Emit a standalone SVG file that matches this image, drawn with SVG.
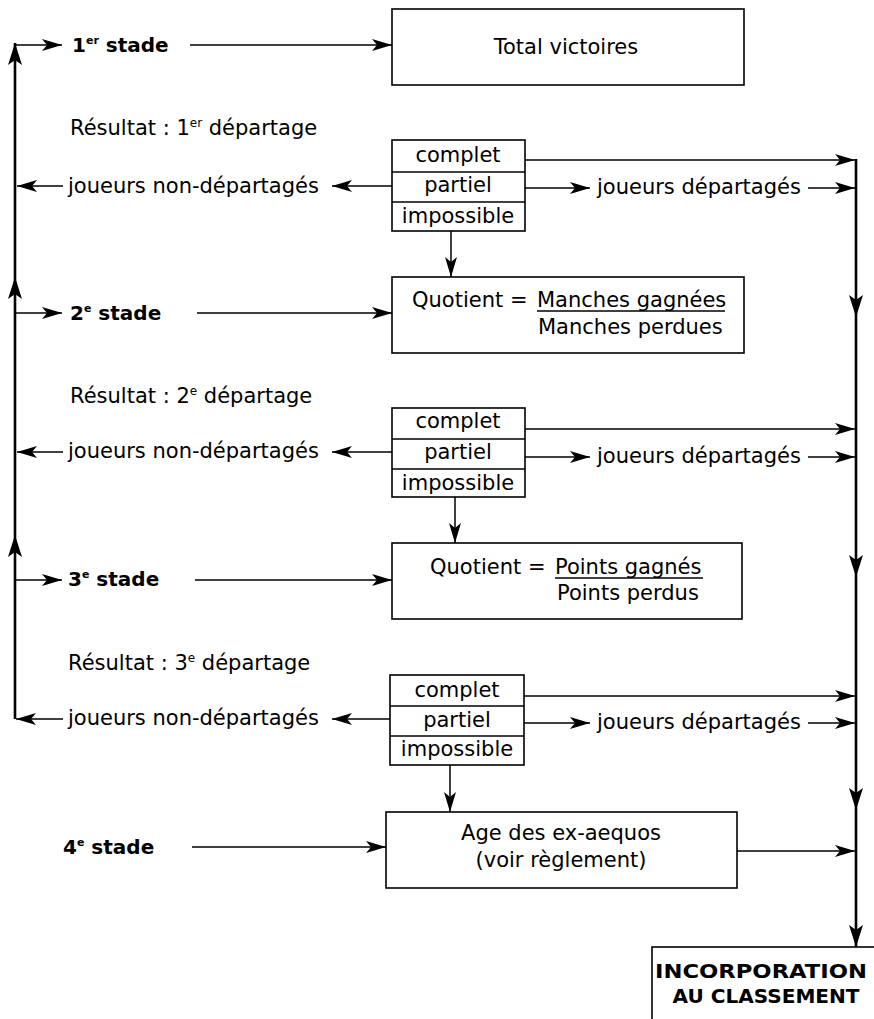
<svg xmlns="http://www.w3.org/2000/svg" width="874" height="1019" viewBox="0 0 874 1019">
<defs>
<marker id="ah" markerUnits="userSpaceOnUse" markerWidth="22" markerHeight="12" refX="20" refY="6" orient="auto">
<path d="M0,0 L20,6 L0,12 L5,6 z" fill="#000"/>
</marker>
<marker id="ahb" markerUnits="userSpaceOnUse" markerWidth="24" markerHeight="14" refX="22" refY="7" orient="auto">
<path d="M0,0 L22,7 L0,14 L5,7 z" fill="#000"/>
</marker>
</defs>
<style>
.t{font-family:"DejaVu Sans","Liberation Sans",sans-serif;font-size:21px;fill:#000}
.b{font-family:"DejaVu Sans","Liberation Sans",sans-serif;font-size:20px;font-weight:bold;fill:#000}
.bx{fill:#fff;stroke:#000;stroke-width:1.6}
.dv{stroke:#000;stroke-width:1.4}
.c{fill:none;stroke:#000;stroke-width:1.5;marker-end:url(#ah)}
.cn{fill:none;stroke:#000;stroke-width:1.5}
.v{fill:none;stroke:#000;stroke-width:2.6;marker-end:url(#ahb)}
.vn{fill:none;stroke:#000;stroke-width:2.6}
.m{text-anchor:middle}
</style>
<rect width="874" height="1019" fill="#fff"/>

<g id="connectors">
<!-- left return line -->
<line class="v" x1="15" y1="719" x2="15" y2="535"/>
<line class="v" x1="15" y1="535" x2="15" y2="277"/>
<line class="v" x1="15" y1="277" x2="15" y2="43"/>
<!-- stage entries from left line -->
<line class="c" x1="15" y1="45" x2="62" y2="45"/>
<line class="c" x1="16" y1="313" x2="62" y2="313"/>
<line class="c" x1="16" y1="580" x2="62" y2="580"/>
<!-- stage to box -->
<line class="c" x1="190" y1="45" x2="392" y2="45"/>
<line class="c" x1="197" y1="313" x2="392" y2="313"/>
<line class="c" x1="195" y1="580" x2="392" y2="580"/>
<line class="c" x1="192" y1="847" x2="386" y2="847"/>
<!-- non-départagés -->
<line class="c" x1="392" y1="186" x2="332" y2="186"/>
<line class="c" x1="63" y1="186" x2="17" y2="186"/>
<line class="c" x1="392" y1="452" x2="332" y2="452"/>
<line class="c" x1="63" y1="452" x2="17" y2="452"/>
<line class="c" x1="390" y1="719" x2="332" y2="719"/>
<line class="c" x1="63" y1="719" x2="16" y2="719"/>
<!-- complet -->
<line class="c" x1="525" y1="160" x2="855" y2="160"/>
<line class="c" x1="525" y1="429" x2="855" y2="429"/>
<line class="c" x1="524" y1="696" x2="855" y2="696"/>
<!-- partiel / départagés -->
<line class="c" x1="525" y1="188" x2="590" y2="188"/>
<line class="c" x1="808" y1="188" x2="855" y2="188"/>
<line class="c" x1="525" y1="457" x2="590" y2="457"/>
<line class="c" x1="808" y1="457" x2="855" y2="457"/>
<line class="c" x1="524" y1="723" x2="590" y2="723"/>
<line class="c" x1="808" y1="723" x2="855" y2="723"/>
<!-- impossible down -->
<line class="c" x1="451" y1="231" x2="451" y2="277"/>
<line class="c" x1="455" y1="497" x2="455" y2="543"/>
<line class="c" x1="450" y1="765" x2="450" y2="812"/>
<!-- age to right line -->
<line class="c" x1="737" y1="851" x2="855" y2="851"/>
<!-- right collector line -->
<line class="v" x1="856" y1="159" x2="856" y2="317"/>
<line class="v" x1="856" y1="317" x2="856" y2="577"/>
<line class="v" x1="856" y1="577" x2="856" y2="810"/>
<line class="v" x1="856" y1="810" x2="856" y2="947"/>
</g>

<g id="labels">
<text class="t" x="70" y="135">Résultat : 1<tspan font-size="12" dy="-8">er</tspan><tspan dy="8"> départage</tspan></text>
<text class="t" x="68" y="193">joueurs non-départagés</text>
<text class="t" x="597" y="194">joueurs départagés</text>
<text class="t" x="70" y="403">Résultat : 2<tspan font-size="12" dy="-8">e</tspan><tspan dy="8"> départage</tspan></text>
<text class="t" x="68" y="458">joueurs non-départagés</text>
<text class="t" x="597" y="463">joueurs départagés</text>
<text class="t" x="68" y="670">Résultat : 3<tspan font-size="12" dy="-8">e</tspan><tspan dy="8"> départage</tspan></text>
<text class="t" x="68" y="725">joueurs non-départagés</text>
<text class="t" x="597" y="729">joueurs départagés</text>
</g>

<g id="stade1"><text class="b" x="72" y="52">1<tspan font-size="11" dy="-8">er</tspan><tspan dy="8"> stade</tspan></text></g>
<g id="stade2"><text class="b" x="70" y="320">2<tspan font-size="11" dy="-8">e</tspan><tspan dy="8"> stade</tspan></text></g>
<g id="stade3"><text class="b" x="68" y="586">3<tspan font-size="11" dy="-8">e</tspan><tspan dy="8"> stade</tspan></text></g>
<g id="stade4"><text class="b" x="63" y="854">4<tspan font-size="11" dy="-8">e</tspan><tspan dy="8"> stade</tspan></text></g>

<g id="total">
<rect class="bx" x="392" y="9" width="352" height="76"/>
<text class="t m" x="566" y="54">Total victoires</text>
</g>

<g id="resultat1">
<rect class="bx" x="392" y="140" width="133" height="91"/>
<line class="dv" x1="392" y1="172" x2="525" y2="172"/>
<line class="dv" x1="392" y1="202" x2="525" y2="202"/>
<text class="t m" x="458" y="162">complet</text>
<text class="t m" x="458" y="192">partiel</text>
<text class="t m" x="458" y="223">impossible</text>
</g>

<g id="quotient1">
<rect class="bx" x="392" y="277" width="352" height="76"/>
<text class="t" x="412" y="307">Quotient = <tspan x="537">Manches gagnées</tspan></text>
<line class="dv" x1="537" y1="311" x2="725" y2="311"/>
<text class="t" x="538" y="334">Manches perdues</text>
</g>

<g id="resultat2">
<rect class="bx" x="392" y="408" width="133" height="89"/>
<line class="dv" x1="392" y1="439" x2="525" y2="439"/>
<line class="dv" x1="392" y1="469" x2="525" y2="469"/>
<text class="t m" x="458" y="428">complet</text>
<text class="t m" x="458" y="459">partiel</text>
<text class="t m" x="458" y="490">impossible</text>
</g>

<g id="quotient2">
<rect class="bx" x="392" y="543" width="350" height="76"/>
<text class="t" x="430" y="574">Quotient = <tspan x="555">Points gagnés</tspan></text>
<line class="dv" x1="555" y1="578" x2="703" y2="578"/>
<text class="t" x="557" y="600">Points perdus</text>
</g>

<g id="resultat3">
<rect class="bx" x="390" y="675" width="134" height="90"/>
<line class="dv" x1="390" y1="706" x2="524" y2="706"/>
<line class="dv" x1="390" y1="736" x2="524" y2="736"/>
<text class="t m" x="457" y="697">complet</text>
<text class="t m" x="457" y="727">partiel</text>
<text class="t m" x="457" y="756">impossible</text>
</g>

<g id="age">
<rect class="bx" x="386" y="812" width="351" height="76"/>
<text class="t m" x="561" y="840">Age des ex-aequos</text>
<text class="t m" x="561" y="867">(voir règlement)</text>
</g>

<g id="incorporation">
<rect class="bx" x="652" y="947" width="240" height="90"/>
<text class="b m" x="761" y="978" font-size="21" textLength="212" lengthAdjust="spacingAndGlyphs">INCORPORATION</text>
<text class="b m" x="766" y="1003" font-size="21" textLength="187" lengthAdjust="spacingAndGlyphs">AU CLASSEMENT</text>
</g>
</svg>
